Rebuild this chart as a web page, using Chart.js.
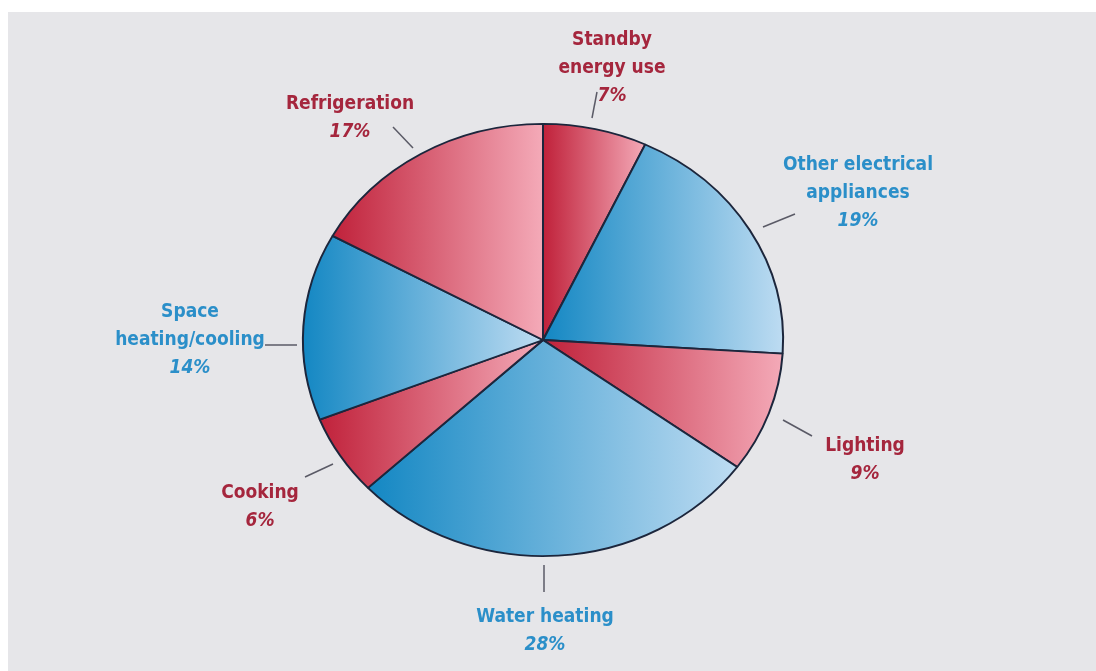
<!DOCTYPE html>
<html>
<head>
<meta charset="utf-8">
<script src="https://cdn.jsdelivr.net/npm/chart.js@4"></script>
<style>
  html, body { margin: 0; padding: 0; background: #ffffff; }
  #panel { position: absolute; left: 8px; top: 12px; right: 0; bottom: 0; background: #e6e6e9; }
  #wrap { position: absolute; left: 0; top: 0; width: 1096px; height: 671px; }
</style>
</head>
<body>
<div id="panel"></div>
<div id="wrap"><canvas id="energyPie"></canvas></div>
<script>
// Household energy use by end use (clockwise from 12 o'clock)
const categories = ['Standby energy use', 'Other electrical appliances', 'Lighting', 'Water heating', 'Cooking', 'Space heating/cooling', 'Refrigeration'];
const shares = [7, 19, 9, 28, 6, 14, 17];
const labelLines = [['Standby', 'energy use'], ['Other electrical', 'appliances'], ['Lighting'], ['Water heating'], ['Cooking'], ['Space', 'heating/cooling'], ['Refrigeration']];
const tones = ['red', 'blue', 'red', 'blue', 'red', 'blue', 'red'];

// label placement, pixels from the pie centre: text x, first line y, leader line
const labelPos = [
    { tx: 69, ty: -300, line: [49, -222, 54, -248] },
    { tx: 315, ty: -175, line: [220, -113, 252, -126] },
    { tx: 322, ty: 106, line: [240, 80, 269, 96] },
    { tx: 2, ty: 277, line: [1, 225, 1, 252] },
    { tx: -283, ty: 153, line: [-210, 124, -238, 137] },
    { tx: -353, ty: -28, line: [-278, 5, -246, 5] },
    { tx: -193, ty: -236, line: [-130, -192, -150, -213] }
];

const palette = {
    red: { dark: '#c0213a', light: '#f4aab8', text: '#a5263d' },
    blue: { dark: '#1387c3', light: '#bedcf2', text: '#2b8fc9' }
};
const stretchX = 240 / 216; // the pie in the picture is a little wider than tall
const lineGap = 28;

function sliceGradient(context) {
    const chart = context.chart;
    const area = chart.chartArea;
    const tone = palette[tones[context.dataIndex]];
    if (!area) return tone.dark;
    const cx = (area.left + area.right) / 2;
    const r = Math.min(area.width, area.height) / 2;
    const total = shares.reduce((a, b) => a + b, 0);
    let start = 0;
    for (let i = 0; i < context.dataIndex; i++) start += shares[i];
    const a0 = -Math.PI / 2 + start / total * Math.PI * 2;
    const a1 = a0 + shares[context.dataIndex] / total * Math.PI * 2;
    let minX = cx, maxX = cx;
    for (let k = 0; k <= 24; k++) {
        const a = a0 + (a1 - a0) * k / 24;
        const x = cx + r * Math.cos(a);
        minX = Math.min(minX, x);
        maxX = Math.max(maxX, x);
    }
    const g = chart.ctx.createLinearGradient(minX, 0, maxX, 0);
    g.addColorStop(0, tone.dark);
    g.addColorStop(1, tone.light);
    return g;
}

const ellipsePlugin = {
    id: 'ellipse',
    beforeDatasetsDraw(chart) {
        const arc = chart.getDatasetMeta(0).data[0];
        const ctx = chart.ctx;
        ctx.save();
        ctx.translate(arc.x, arc.y);
        ctx.scale(stretchX, 1);
        ctx.translate(-arc.x, -arc.y);
    },
    afterDatasetsDraw(chart) {
        chart.ctx.restore();
    }
};

const calloutPlugin = {
    id: 'callouts',
    afterDraw(chart) {
        const arc = chart.getDatasetMeta(0).data[0];
        const cx = arc.x, cy = arc.y;
        const ctx = chart.ctx;
        ctx.save();
        ctx.textAlign = 'center';
        ctx.textBaseline = 'middle';
        labelPos.forEach(function(p, i) {
            ctx.strokeStyle = '#5a5a66';
            ctx.lineWidth = 1.5;
            ctx.beginPath();
            ctx.moveTo(cx + p.line[0], cy + p.line[1]);
            ctx.lineTo(cx + p.line[2], cy + p.line[3]);
            ctx.stroke();

            ctx.fillStyle = palette[tones[i]].text;
            ctx.font = 'bold 19px "Liberation Sans Narrow", "DejaVu Sans Condensed", sans-serif';
            labelLines[i].forEach(function(t, j) {
                ctx.fillText(t, cx + p.tx, cy + p.ty + j * lineGap);
            });
            ctx.font = 'italic bold 19px "Liberation Sans Narrow", "DejaVu Sans Condensed", sans-serif';
            ctx.fillText(shares[i] + '%', cx + p.tx, cy + p.ty + labelLines[i].length * lineGap);
        });
        ctx.restore();
    }
};

const energyPie = document.getElementById('energyPie').getContext('2d');
new Chart(energyPie, {
    type: 'pie',
    data: {
        labels: categories,
        datasets: [{
            data: shares,
            backgroundColor: sliceGradient,
            borderColor: '#1c263c',
            borderWidth: 1.8
        }]
    },
    options: {
        responsive: true,
        maintainAspectRatio: false,
        animation: false,
        layout: {
            padding: { top: 123, bottom: 114, left: 200, right: 210 }
        },
        plugins: {
            legend: { display: false },
            tooltip: { enabled: false }
        }
    },
    plugins: [ellipsePlugin, calloutPlugin]
});
</script>
</body>
</html>
